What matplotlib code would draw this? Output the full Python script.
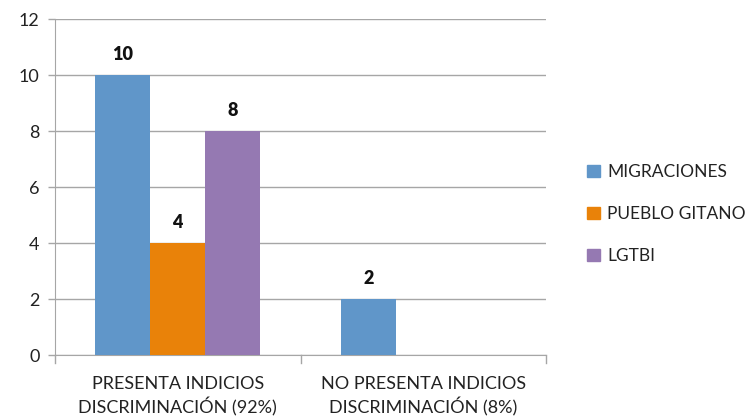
import matplotlib
matplotlib.use("Agg")
import matplotlib.pyplot as plt
import numpy as np

categories = ["PRESENTA INDICIOS\nDISCRIMINACIÓN (92%)", "NO PRESENTA INDICIOS\nDISCRIMINACIÓN (8%)"]
series_names = ["MIGRACIONES", "PUEBLO GITANO", "LGTBI"]
migraciones = [10, 2]
pueblo_gitano = [4, 0]
lgtbi = [8, 0]
y_ticks = [0, 2, 4, 6, 8, 10, 12]

colors = ["#6096C9", "#E98209", "#9579B2"]
values = [migraciones, pueblo_gitano, lgtbi]

plt.rcParams["font.family"] = ["Lato", "DejaVu Sans"]

fig = plt.figure(figsize=(7.47, 4.19), dpi=100)
W, H = 747, 419
ax = fig.add_axes([55 / W, 1 - 355 / H, (546 - 55) / W, (355 - 19) / H])

x = np.arange(len(categories))
bw = 0.224
grid_c = "#A6A6A6"
for i, (name, vals, c) in enumerate(zip(series_names, values, colors)):
    xs = x + (i - 1) * bw
    ax.bar(xs, vals, width=bw, color=c, label=name, zorder=3)
    for xi, v in zip(xs, vals):
        if v > 0:
            ax.text(xi, v + 0.42, f"{v}", ha="center", va="bottom",
                    fontsize=13, fontweight="heavy", color="#111111")

ax.set_xlim(-0.5, 1.5)
ax.set_ylim(0, 12)
ax.set_yticks(y_ticks)
ax.set_yticklabels([str(t) for t in y_ticks], fontsize=13, color="#222222")
ax.yaxis.grid(True, color=grid_c, linewidth=1.0, zorder=0)
ax.set_axisbelow(True)

ax.set_xticks(x)
ax.set_xticklabels(categories, fontsize=13, linespacing=1.35, color="#222222")
ax.tick_params(axis="x", length=0, pad=15)
ax.tick_params(axis="y", length=5, color=grid_c, width=1.0, pad=6)

# Category separator ticks on the horizontal axis
for sep in [-0.5, 0.5, 1.5]:
    ax.plot([sep, sep], [0, -0.28], color=grid_c, linewidth=1.0, clip_on=False)

for s in ["top", "right"]:
    ax.spines[s].set_visible(False)
ax.spines["left"].set_color(grid_c)
ax.spines["bottom"].set_color(grid_c)

handles = [plt.Rectangle((0, 0), 1, 1, color=c) for c in colors]
leg = fig.legend(handles, series_names, loc="center left",
                 bbox_to_anchor=(587 / W, 1 - 214 / H), frameon=False,
                 borderaxespad=0, borderpad=0,
                 fontsize=12.5, handlelength=0.75, handleheight=0.75,
                 handletextpad=0.4, labelspacing=1.5,
                 labelcolor="#222222")

fig.savefig("out.png", dpi=100, facecolor="white")
